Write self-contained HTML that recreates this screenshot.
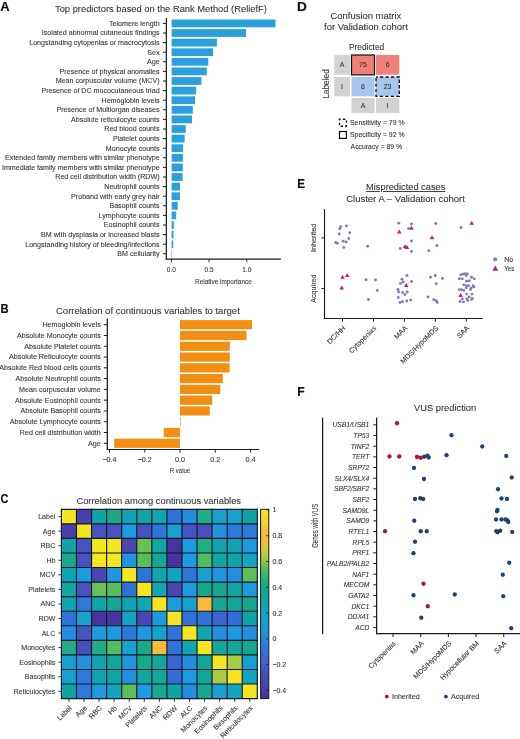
<!DOCTYPE html>
<html lang="en">
<head>
<meta charset="utf-8">
<title>Figure: predictors, correlations, confusion matrix and VUS prediction</title>
<style>
html,body{margin:0;padding:0;background:#fff;}
body{width:520px;height:739px;overflow:hidden;}
svg{display:block;font-family:"Liberation Sans",sans-serif;}
text{fill:#383838;stroke:#383838;stroke-width:0.1px;}
text.pl{fill:#0d0d0d;stroke:#0d0d0d;stroke-width:0.15px;stroke-linejoin:round;}
</style>
</head>
<body>
<svg width="520" height="739" viewBox="0 0 520 739">
<rect x="0" y="0" width="520" height="739" fill="#ffffff"/>
<text class="pl" transform="translate(0.48 10.73) scale(1.020 1)" x="-0.32" y="0" font-size="12.8" font-weight="bold">A</text>
<text class="pl" transform="translate(1.18 312.53) scale(0.879 1)" x="-0.86" y="0" font-size="12.8" font-weight="bold">B</text>
<text class="pl" transform="translate(0.88 502.62) scale(0.855 1)" x="-0.52" y="0" font-size="12.8" font-weight="bold">C</text>
<text class="pl" transform="translate(297.88 10.62) scale(1.066 1)" x="-0.86" y="0" font-size="12.8" font-weight="bold">D</text>
<text class="pl" transform="translate(297.97 187.73) scale(0.914 1)" x="-0.86" y="0" font-size="12.8" font-weight="bold">E</text>
<text class="pl" transform="translate(297.97 395.82) scale(0.950 1)" x="-0.86" y="0" font-size="12.8" font-weight="bold">F</text>
<g id="panelA">
<text x="55.00" y="11.80" font-size="9.35">Top predictors based on the Rank Method (ReliefF)</text>
<rect x="171.60" y="19.50" width="103.90" height="7.80" fill="#2ba0dc"/>
<line x1="163.00" y1="23.40" x2="166.20" y2="23.40" stroke="#1a1a1a" stroke-width="1.0"/>
<text x="159.60" y="25.85" font-size="7.12" text-anchor="end">Telomere length</text>
<rect x="171.60" y="29.10" width="74.50" height="7.80" fill="#2ba0dc"/>
<line x1="163.00" y1="33.00" x2="166.20" y2="33.00" stroke="#1a1a1a" stroke-width="1.0"/>
<text x="159.60" y="35.45" font-size="7.12" text-anchor="end">Isolated abnormal cutaneous findings</text>
<rect x="171.60" y="38.70" width="45.30" height="7.80" fill="#2ba0dc"/>
<line x1="163.00" y1="42.60" x2="166.20" y2="42.60" stroke="#1a1a1a" stroke-width="1.0"/>
<text x="159.60" y="45.05" font-size="7.12" text-anchor="end">Longstanding cytopenias or macrocytosis</text>
<rect x="171.60" y="48.30" width="41.50" height="7.80" fill="#2ba0dc"/>
<line x1="163.00" y1="52.20" x2="166.20" y2="52.20" stroke="#1a1a1a" stroke-width="1.0"/>
<text x="159.60" y="54.65" font-size="7.12" text-anchor="end">Sex</text>
<rect x="171.60" y="57.90" width="36.70" height="7.80" fill="#2ba0dc"/>
<line x1="163.00" y1="61.80" x2="166.20" y2="61.80" stroke="#1a1a1a" stroke-width="1.0"/>
<text x="159.60" y="64.25" font-size="7.12" text-anchor="end">Age</text>
<rect x="171.60" y="67.50" width="35.20" height="7.80" fill="#2ba0dc"/>
<line x1="163.00" y1="71.40" x2="166.20" y2="71.40" stroke="#1a1a1a" stroke-width="1.0"/>
<text x="159.60" y="73.85" font-size="7.12" text-anchor="end">Presence of physical anomalies</text>
<rect x="171.60" y="77.10" width="29.80" height="7.80" fill="#2ba0dc"/>
<line x1="163.00" y1="81.00" x2="166.20" y2="81.00" stroke="#1a1a1a" stroke-width="1.0"/>
<text x="159.60" y="83.45" font-size="7.12" text-anchor="end">Mean corpuscular volume (MCV)</text>
<rect x="171.60" y="86.70" width="24.60" height="7.80" fill="#2ba0dc"/>
<line x1="163.00" y1="90.60" x2="166.20" y2="90.60" stroke="#1a1a1a" stroke-width="1.0"/>
<text x="159.60" y="93.05" font-size="7.12" text-anchor="end">Presence of DC mucocutaneous triad</text>
<rect x="171.60" y="96.30" width="23.50" height="7.80" fill="#2ba0dc"/>
<line x1="163.00" y1="100.20" x2="166.20" y2="100.20" stroke="#1a1a1a" stroke-width="1.0"/>
<text x="159.60" y="102.65" font-size="7.12" text-anchor="end">Hemoglobin levels</text>
<rect x="171.60" y="105.90" width="21.20" height="7.80" fill="#2ba0dc"/>
<line x1="163.00" y1="109.80" x2="166.20" y2="109.80" stroke="#1a1a1a" stroke-width="1.0"/>
<text x="159.60" y="112.25" font-size="7.12" text-anchor="end">Presence of Multiorgan diseases</text>
<rect x="171.60" y="115.50" width="20.40" height="7.80" fill="#2ba0dc"/>
<line x1="163.00" y1="119.40" x2="166.20" y2="119.40" stroke="#1a1a1a" stroke-width="1.0"/>
<text x="159.60" y="121.85" font-size="7.12" text-anchor="end">Absolute reticulocyte counts</text>
<rect x="171.60" y="125.10" width="14.20" height="7.80" fill="#2ba0dc"/>
<line x1="163.00" y1="129.00" x2="166.20" y2="129.00" stroke="#1a1a1a" stroke-width="1.0"/>
<text x="159.60" y="131.45" font-size="7.12" text-anchor="end">Red blood counts</text>
<rect x="171.60" y="134.70" width="13.00" height="7.80" fill="#2ba0dc"/>
<line x1="163.00" y1="138.60" x2="166.20" y2="138.60" stroke="#1a1a1a" stroke-width="1.0"/>
<text x="159.60" y="141.05" font-size="7.12" text-anchor="end">Platelet counts</text>
<rect x="171.60" y="144.30" width="11.50" height="7.80" fill="#2ba0dc"/>
<line x1="163.00" y1="148.20" x2="166.20" y2="148.20" stroke="#1a1a1a" stroke-width="1.0"/>
<text x="159.60" y="150.65" font-size="7.12" text-anchor="end">Monocyte counts</text>
<rect x="171.60" y="153.90" width="11.30" height="7.80" fill="#2ba0dc"/>
<line x1="163.00" y1="157.80" x2="166.20" y2="157.80" stroke="#1a1a1a" stroke-width="1.0"/>
<text x="159.60" y="160.25" font-size="7.12" text-anchor="end">Extended family members with similar phenotype</text>
<rect x="171.60" y="163.50" width="11.20" height="7.80" fill="#2ba0dc"/>
<line x1="163.00" y1="167.40" x2="166.20" y2="167.40" stroke="#1a1a1a" stroke-width="1.0"/>
<text x="159.60" y="169.85" font-size="7.12" text-anchor="end">Immediate family members with similar phenotype</text>
<rect x="171.60" y="173.10" width="11.00" height="7.80" fill="#2ba0dc"/>
<line x1="163.00" y1="177.00" x2="166.20" y2="177.00" stroke="#1a1a1a" stroke-width="1.0"/>
<text x="159.60" y="179.45" font-size="7.12" text-anchor="end">Red cell distribution width (RDW)</text>
<rect x="171.60" y="182.70" width="8.40" height="7.80" fill="#2ba0dc"/>
<line x1="163.00" y1="186.60" x2="166.20" y2="186.60" stroke="#1a1a1a" stroke-width="1.0"/>
<text x="159.60" y="189.05" font-size="7.12" text-anchor="end">Neutrophil counts</text>
<rect x="171.60" y="192.30" width="8.40" height="7.80" fill="#2ba0dc"/>
<line x1="163.00" y1="196.20" x2="166.20" y2="196.20" stroke="#1a1a1a" stroke-width="1.0"/>
<text x="159.60" y="198.65" font-size="7.12" text-anchor="end">Proband with early grey hair</text>
<rect x="171.60" y="201.90" width="6.10" height="7.80" fill="#2ba0dc"/>
<line x1="163.00" y1="205.80" x2="166.20" y2="205.80" stroke="#1a1a1a" stroke-width="1.0"/>
<text x="159.60" y="208.25" font-size="7.12" text-anchor="end">Basophil counts</text>
<rect x="171.60" y="211.50" width="4.60" height="7.80" fill="#2ba0dc"/>
<line x1="163.00" y1="215.40" x2="166.20" y2="215.40" stroke="#1a1a1a" stroke-width="1.0"/>
<text x="159.60" y="217.85" font-size="7.12" text-anchor="end">Lymphocyte counts</text>
<rect x="171.60" y="221.10" width="2.20" height="7.80" fill="#2ba0dc"/>
<line x1="163.00" y1="225.00" x2="166.20" y2="225.00" stroke="#1a1a1a" stroke-width="1.0"/>
<text x="159.60" y="227.45" font-size="7.12" text-anchor="end">Eosinophil counts</text>
<rect x="171.60" y="230.70" width="1.90" height="7.80" fill="#2ba0dc"/>
<line x1="163.00" y1="234.60" x2="166.20" y2="234.60" stroke="#1a1a1a" stroke-width="1.0"/>
<text x="159.60" y="237.05" font-size="7.12" text-anchor="end">BM with dysplasia or increased blasts</text>
<rect x="171.60" y="240.30" width="1.60" height="7.80" fill="#2ba0dc"/>
<line x1="163.00" y1="244.20" x2="166.20" y2="244.20" stroke="#1a1a1a" stroke-width="1.0"/>
<text x="159.60" y="246.65" font-size="7.12" text-anchor="end">Longstanding history of bleeding/infections</text>
<rect x="171.60" y="249.90" width="0.50" height="7.80" fill="#2ba0dc"/>
<line x1="163.00" y1="253.80" x2="166.20" y2="253.80" stroke="#1a1a1a" stroke-width="1.0"/>
<text x="159.60" y="256.25" font-size="7.12" text-anchor="end">BM cellularity</text>
<line x1="166.35" y1="18.00" x2="166.35" y2="259.70" stroke="#1a1a1a" stroke-width="1.2"/>
<line x1="165.75" y1="259.15" x2="280.80" y2="259.15" stroke="#1a1a1a" stroke-width="1.15"/>
<line x1="171.40" y1="259.10" x2="171.40" y2="262.30" stroke="#1a1a1a" stroke-width="0.9"/>
<text x="171.40" y="271.90" font-size="7.7" text-anchor="middle" textLength="9.1" lengthAdjust="spacingAndGlyphs">0.0</text>
<line x1="209.10" y1="259.10" x2="209.10" y2="262.30" stroke="#1a1a1a" stroke-width="0.9"/>
<text x="209.10" y="271.90" font-size="7.7" text-anchor="middle" textLength="9.1" lengthAdjust="spacingAndGlyphs">0.5</text>
<line x1="246.80" y1="259.10" x2="246.80" y2="262.30" stroke="#1a1a1a" stroke-width="0.9"/>
<text x="246.80" y="271.90" font-size="7.7" text-anchor="middle" textLength="9.1" lengthAdjust="spacingAndGlyphs">1.0</text>
<text x="223.40" y="283.60" font-size="8.1" text-anchor="middle" textLength="56.8" lengthAdjust="spacingAndGlyphs">Relative importance</text>
</g>
<g id="panelB">
<text x="56.00" y="313.70" font-size="9.5">Correlation of continuous variables to target</text>
<rect x="180.00" y="320.10" width="72.00" height="9.20" fill="#f28e12"/>
<line x1="103.80" y1="324.70" x2="107.00" y2="324.70" stroke="#1a1a1a" stroke-width="1.0"/>
<text x="100.80" y="327.15" font-size="7.15" text-anchor="end">Hemoglobin levels</text>
<rect x="180.00" y="330.88" width="66.50" height="9.20" fill="#f28e12"/>
<line x1="103.80" y1="335.48" x2="107.00" y2="335.48" stroke="#1a1a1a" stroke-width="1.0"/>
<text x="100.80" y="337.93" font-size="7.15" text-anchor="end">Absolute Monocyte counts</text>
<rect x="180.00" y="341.66" width="49.80" height="9.20" fill="#f28e12"/>
<line x1="103.80" y1="346.26" x2="107.00" y2="346.26" stroke="#1a1a1a" stroke-width="1.0"/>
<text x="100.80" y="348.71" font-size="7.15" text-anchor="end">Absolute Platelet counts</text>
<rect x="180.00" y="352.44" width="49.80" height="9.20" fill="#f28e12"/>
<line x1="103.80" y1="357.04" x2="107.00" y2="357.04" stroke="#1a1a1a" stroke-width="1.0"/>
<text x="100.80" y="359.49" font-size="7.15" text-anchor="end">Absolute Reticulocyte counts</text>
<rect x="180.00" y="363.22" width="49.60" height="9.20" fill="#f28e12"/>
<line x1="103.80" y1="367.82" x2="107.00" y2="367.82" stroke="#1a1a1a" stroke-width="1.0"/>
<text x="100.80" y="370.27" font-size="7.15" text-anchor="end">Absolute Red blood cells counts</text>
<rect x="180.00" y="374.00" width="42.80" height="9.20" fill="#f28e12"/>
<line x1="103.80" y1="378.60" x2="107.00" y2="378.60" stroke="#1a1a1a" stroke-width="1.0"/>
<text x="100.80" y="381.05" font-size="7.15" text-anchor="end">Absolute Neutrophil counts</text>
<rect x="180.00" y="384.78" width="40.30" height="9.20" fill="#f28e12"/>
<line x1="103.80" y1="389.38" x2="107.00" y2="389.38" stroke="#1a1a1a" stroke-width="1.0"/>
<text x="100.80" y="391.83" font-size="7.15" text-anchor="end">Mean corpuscular volume</text>
<rect x="180.00" y="395.56" width="32.30" height="9.20" fill="#f28e12"/>
<line x1="103.80" y1="400.16" x2="107.00" y2="400.16" stroke="#1a1a1a" stroke-width="1.0"/>
<text x="100.80" y="402.61" font-size="7.15" text-anchor="end">Absolute Eosinophil counts</text>
<rect x="180.00" y="406.34" width="29.80" height="9.20" fill="#f28e12"/>
<line x1="103.80" y1="410.94" x2="107.00" y2="410.94" stroke="#1a1a1a" stroke-width="1.0"/>
<text x="100.80" y="413.39" font-size="7.15" text-anchor="end">Absolute Basophil counts</text>
<rect x="180.00" y="417.12" width="0.60" height="9.20" fill="#f28e12"/>
<line x1="103.80" y1="421.72" x2="107.00" y2="421.72" stroke="#1a1a1a" stroke-width="1.0"/>
<text x="100.80" y="424.17" font-size="7.15" text-anchor="end">Absolute Lymphocyte counts</text>
<rect x="163.70" y="427.90" width="16.30" height="9.20" fill="#f28e12"/>
<line x1="103.80" y1="432.50" x2="107.00" y2="432.50" stroke="#1a1a1a" stroke-width="1.0"/>
<text x="100.80" y="434.95" font-size="7.15" text-anchor="end">Red cell distribution width</text>
<rect x="114.20" y="438.68" width="65.80" height="9.20" fill="#f28e12"/>
<line x1="103.80" y1="443.28" x2="107.00" y2="443.28" stroke="#1a1a1a" stroke-width="1.0"/>
<text x="100.80" y="445.73" font-size="7.15" text-anchor="end">Age</text>
<line x1="107.30" y1="318.60" x2="107.30" y2="450.10" stroke="#1a1a1a" stroke-width="1.25"/>
<line x1="106.70" y1="449.50" x2="259.20" y2="449.50" stroke="#1a1a1a" stroke-width="1.2"/>
<line x1="109.50" y1="449.50" x2="109.50" y2="452.70" stroke="#1a1a1a" stroke-width="0.9"/>
<text x="109.50" y="462.10" font-size="7.2" text-anchor="middle">−0.4</text>
<line x1="144.77" y1="449.50" x2="144.77" y2="452.70" stroke="#1a1a1a" stroke-width="0.9"/>
<text x="144.77" y="462.10" font-size="7.2" text-anchor="middle">−0.2</text>
<line x1="180.04" y1="449.50" x2="180.04" y2="452.70" stroke="#1a1a1a" stroke-width="0.9"/>
<text x="180.04" y="462.10" font-size="7.2" text-anchor="middle">0.0</text>
<line x1="215.31" y1="449.50" x2="215.31" y2="452.70" stroke="#1a1a1a" stroke-width="0.9"/>
<text x="215.31" y="462.10" font-size="7.2" text-anchor="middle">0.2</text>
<line x1="250.58" y1="449.50" x2="250.58" y2="452.70" stroke="#1a1a1a" stroke-width="0.9"/>
<text x="250.58" y="462.10" font-size="7.2" text-anchor="middle">0.4</text>
<text x="180.00" y="473.30" font-size="8.1" text-anchor="middle" textLength="20.3" lengthAdjust="spacingAndGlyphs">R value</text>
</g>
<g id="panelC">
<text x="76.40" y="504.00" font-size="9.36">Correlation among continuous variables</text>
<rect x="61.40" y="509.30" width="15.12" height="14.61" fill="#f5e622"/>
<rect x="76.47" y="509.30" width="15.12" height="14.61" fill="#4a3fab"/>
<rect x="91.54" y="509.30" width="15.12" height="14.61" fill="#10a5a5"/>
<rect x="106.61" y="509.30" width="15.12" height="14.61" fill="#18a88a"/>
<rect x="121.68" y="509.30" width="15.12" height="14.61" fill="#12a4b6"/>
<rect x="136.75" y="509.30" width="15.12" height="14.61" fill="#12a6a0"/>
<rect x="151.82" y="509.30" width="15.12" height="14.61" fill="#11a5b0"/>
<rect x="166.89" y="509.30" width="15.12" height="14.61" fill="#3072d8"/>
<rect x="181.96" y="509.30" width="15.12" height="14.61" fill="#268cdf"/>
<rect x="197.03" y="509.30" width="15.12" height="14.61" fill="#20ad85"/>
<rect x="212.10" y="509.30" width="15.12" height="14.61" fill="#16a2cd"/>
<rect x="227.17" y="509.30" width="15.12" height="14.61" fill="#17a1cf"/>
<rect x="242.24" y="509.30" width="15.12" height="14.61" fill="#10a5a5"/>
<rect x="61.40" y="523.86" width="15.12" height="14.61" fill="#4a3fab"/>
<rect x="76.47" y="523.86" width="15.12" height="14.61" fill="#f5e622"/>
<rect x="91.54" y="523.86" width="15.12" height="14.61" fill="#4752be"/>
<rect x="106.61" y="523.86" width="15.12" height="14.61" fill="#4752be"/>
<rect x="121.68" y="523.86" width="15.12" height="14.61" fill="#1c9cdb"/>
<rect x="136.75" y="523.86" width="15.12" height="14.61" fill="#4752be"/>
<rect x="151.82" y="523.86" width="15.12" height="14.61" fill="#2e78da"/>
<rect x="166.89" y="523.86" width="15.12" height="14.61" fill="#16a2cd"/>
<rect x="181.96" y="523.86" width="15.12" height="14.61" fill="#4654c0"/>
<rect x="197.03" y="523.86" width="15.12" height="14.61" fill="#494eba"/>
<rect x="212.10" y="523.86" width="15.12" height="14.61" fill="#2392df"/>
<rect x="227.17" y="523.86" width="15.12" height="14.61" fill="#2e7ada"/>
<rect x="242.24" y="523.86" width="15.12" height="14.61" fill="#2e7ada"/>
<rect x="61.40" y="538.42" width="15.12" height="14.61" fill="#10a5a5"/>
<rect x="76.47" y="538.42" width="15.12" height="14.61" fill="#4752be"/>
<rect x="91.54" y="538.42" width="15.12" height="14.61" fill="#f5e622"/>
<rect x="106.61" y="538.42" width="15.12" height="14.61" fill="#f5e622"/>
<rect x="121.68" y="538.42" width="15.12" height="14.61" fill="#4a47b3"/>
<rect x="136.75" y="538.42" width="15.12" height="14.61" fill="#6ac055"/>
<rect x="151.82" y="538.42" width="15.12" height="14.61" fill="#10a5a8"/>
<rect x="166.89" y="538.42" width="15.12" height="14.61" fill="#46339e"/>
<rect x="181.96" y="538.42" width="15.12" height="14.61" fill="#1e9ae0"/>
<rect x="197.03" y="538.42" width="15.12" height="14.61" fill="#22ae84"/>
<rect x="212.10" y="538.42" width="15.12" height="14.61" fill="#11a5b0"/>
<rect x="227.17" y="538.42" width="15.12" height="14.61" fill="#11a5b0"/>
<rect x="242.24" y="538.42" width="15.12" height="14.61" fill="#1e9ae0"/>
<rect x="61.40" y="552.98" width="15.12" height="14.61" fill="#18a88a"/>
<rect x="76.47" y="552.98" width="15.12" height="14.61" fill="#4752be"/>
<rect x="91.54" y="552.98" width="15.12" height="14.61" fill="#f5e622"/>
<rect x="106.61" y="552.98" width="15.12" height="14.61" fill="#f5e622"/>
<rect x="121.68" y="552.98" width="15.12" height="14.61" fill="#2096e0"/>
<rect x="136.75" y="552.98" width="15.12" height="14.61" fill="#59bd5d"/>
<rect x="151.82" y="552.98" width="15.12" height="14.61" fill="#15a795"/>
<rect x="166.89" y="552.98" width="15.12" height="14.61" fill="#46339e"/>
<rect x="181.96" y="552.98" width="15.12" height="14.61" fill="#1e9ae0"/>
<rect x="197.03" y="552.98" width="15.12" height="14.61" fill="#52bc62"/>
<rect x="212.10" y="552.98" width="15.12" height="14.61" fill="#12a69d"/>
<rect x="227.17" y="552.98" width="15.12" height="14.61" fill="#10a5a8"/>
<rect x="242.24" y="552.98" width="15.12" height="14.61" fill="#13a4c1"/>
<rect x="61.40" y="567.54" width="15.12" height="14.61" fill="#12a4b6"/>
<rect x="76.47" y="567.54" width="15.12" height="14.61" fill="#1c9cdb"/>
<rect x="91.54" y="567.54" width="15.12" height="14.61" fill="#4a47b3"/>
<rect x="106.61" y="567.54" width="15.12" height="14.61" fill="#2096e0"/>
<rect x="121.68" y="567.54" width="15.12" height="14.61" fill="#f5e622"/>
<rect x="136.75" y="567.54" width="15.12" height="14.61" fill="#3072d8"/>
<rect x="151.82" y="567.54" width="15.12" height="14.61" fill="#11a5b0"/>
<rect x="166.89" y="567.54" width="15.12" height="14.61" fill="#13a4c1"/>
<rect x="181.96" y="567.54" width="15.12" height="14.61" fill="#2f76d9"/>
<rect x="197.03" y="567.54" width="15.12" height="14.61" fill="#17a1cf"/>
<rect x="212.10" y="567.54" width="15.12" height="14.61" fill="#2096e0"/>
<rect x="227.17" y="567.54" width="15.12" height="14.61" fill="#2490df"/>
<rect x="242.24" y="567.54" width="15.12" height="14.61" fill="#60be58"/>
<rect x="61.40" y="582.10" width="15.12" height="14.61" fill="#12a6a0"/>
<rect x="76.47" y="582.10" width="15.12" height="14.61" fill="#4752be"/>
<rect x="91.54" y="582.10" width="15.12" height="14.61" fill="#6ac055"/>
<rect x="106.61" y="582.10" width="15.12" height="14.61" fill="#59bd5d"/>
<rect x="121.68" y="582.10" width="15.12" height="14.61" fill="#3072d8"/>
<rect x="136.75" y="582.10" width="15.12" height="14.61" fill="#f5e622"/>
<rect x="151.82" y="582.10" width="15.12" height="14.61" fill="#12a5b3"/>
<rect x="166.89" y="582.10" width="15.12" height="14.61" fill="#4a47b3"/>
<rect x="181.96" y="582.10" width="15.12" height="14.61" fill="#1e9ae0"/>
<rect x="197.03" y="582.10" width="15.12" height="14.61" fill="#18a88a"/>
<rect x="212.10" y="582.10" width="15.12" height="14.61" fill="#18a88a"/>
<rect x="227.17" y="582.10" width="15.12" height="14.61" fill="#12a69d"/>
<rect x="242.24" y="582.10" width="15.12" height="14.61" fill="#1e9ae0"/>
<rect x="61.40" y="596.66" width="15.12" height="14.61" fill="#11a5b0"/>
<rect x="76.47" y="596.66" width="15.12" height="14.61" fill="#2e78da"/>
<rect x="91.54" y="596.66" width="15.12" height="14.61" fill="#10a5a8"/>
<rect x="106.61" y="596.66" width="15.12" height="14.61" fill="#15a795"/>
<rect x="121.68" y="596.66" width="15.12" height="14.61" fill="#11a5b0"/>
<rect x="136.75" y="596.66" width="15.12" height="14.61" fill="#12a5b3"/>
<rect x="151.82" y="596.66" width="15.12" height="14.61" fill="#f5e622"/>
<rect x="166.89" y="596.66" width="15.12" height="14.61" fill="#1e9ae0"/>
<rect x="181.96" y="596.66" width="15.12" height="14.61" fill="#16a2cd"/>
<rect x="197.03" y="596.66" width="15.12" height="14.61" fill="#f8ba3a"/>
<rect x="212.10" y="596.66" width="15.12" height="14.61" fill="#14a698"/>
<rect x="227.17" y="596.66" width="15.12" height="14.61" fill="#14a698"/>
<rect x="242.24" y="596.66" width="15.12" height="14.61" fill="#16a78f"/>
<rect x="61.40" y="611.22" width="15.12" height="14.61" fill="#3072d8"/>
<rect x="76.47" y="611.22" width="15.12" height="14.61" fill="#16a2cd"/>
<rect x="91.54" y="611.22" width="15.12" height="14.61" fill="#46339e"/>
<rect x="106.61" y="611.22" width="15.12" height="14.61" fill="#46339e"/>
<rect x="121.68" y="611.22" width="15.12" height="14.61" fill="#13a4c1"/>
<rect x="136.75" y="611.22" width="15.12" height="14.61" fill="#4a47b3"/>
<rect x="151.82" y="611.22" width="15.12" height="14.61" fill="#1e9ae0"/>
<rect x="166.89" y="611.22" width="15.12" height="14.61" fill="#f5e622"/>
<rect x="181.96" y="611.22" width="15.12" height="14.61" fill="#3072d8"/>
<rect x="197.03" y="611.22" width="15.12" height="14.61" fill="#3072d8"/>
<rect x="212.10" y="611.22" width="15.12" height="14.61" fill="#3d64ce"/>
<rect x="227.17" y="611.22" width="15.12" height="14.61" fill="#356dd4"/>
<rect x="242.24" y="611.22" width="15.12" height="14.61" fill="#10a5a5"/>
<rect x="61.40" y="625.78" width="15.12" height="14.61" fill="#268cdf"/>
<rect x="76.47" y="625.78" width="15.12" height="14.61" fill="#4654c0"/>
<rect x="91.54" y="625.78" width="15.12" height="14.61" fill="#1e9ae0"/>
<rect x="106.61" y="625.78" width="15.12" height="14.61" fill="#1e9ae0"/>
<rect x="121.68" y="625.78" width="15.12" height="14.61" fill="#2f76d9"/>
<rect x="136.75" y="625.78" width="15.12" height="14.61" fill="#1e9ae0"/>
<rect x="151.82" y="625.78" width="15.12" height="14.61" fill="#16a2cd"/>
<rect x="166.89" y="625.78" width="15.12" height="14.61" fill="#3072d8"/>
<rect x="181.96" y="625.78" width="15.12" height="14.61" fill="#f5e622"/>
<rect x="197.03" y="625.78" width="15.12" height="14.61" fill="#11a5b0"/>
<rect x="212.10" y="625.78" width="15.12" height="14.61" fill="#258edf"/>
<rect x="227.17" y="625.78" width="15.12" height="14.61" fill="#1e9ae0"/>
<rect x="242.24" y="625.78" width="15.12" height="14.61" fill="#258edf"/>
<rect x="61.40" y="640.34" width="15.12" height="14.61" fill="#20ad85"/>
<rect x="76.47" y="640.34" width="15.12" height="14.61" fill="#494eba"/>
<rect x="91.54" y="640.34" width="15.12" height="14.61" fill="#22ae84"/>
<rect x="106.61" y="640.34" width="15.12" height="14.61" fill="#52bc62"/>
<rect x="121.68" y="640.34" width="15.12" height="14.61" fill="#17a1cf"/>
<rect x="136.75" y="640.34" width="15.12" height="14.61" fill="#18a88a"/>
<rect x="151.82" y="640.34" width="15.12" height="14.61" fill="#f8ba3a"/>
<rect x="166.89" y="640.34" width="15.12" height="14.61" fill="#3072d8"/>
<rect x="181.96" y="640.34" width="15.12" height="14.61" fill="#11a5b0"/>
<rect x="197.03" y="640.34" width="15.12" height="14.61" fill="#f5e622"/>
<rect x="212.10" y="640.34" width="15.12" height="14.61" fill="#14a698"/>
<rect x="227.17" y="640.34" width="15.12" height="14.61" fill="#14a698"/>
<rect x="242.24" y="640.34" width="15.12" height="14.61" fill="#16a78f"/>
<rect x="61.40" y="654.90" width="15.12" height="14.61" fill="#16a2cd"/>
<rect x="76.47" y="654.90" width="15.12" height="14.61" fill="#2392df"/>
<rect x="91.54" y="654.90" width="15.12" height="14.61" fill="#11a5b0"/>
<rect x="106.61" y="654.90" width="15.12" height="14.61" fill="#12a69d"/>
<rect x="121.68" y="654.90" width="15.12" height="14.61" fill="#2096e0"/>
<rect x="136.75" y="654.90" width="15.12" height="14.61" fill="#18a88a"/>
<rect x="151.82" y="654.90" width="15.12" height="14.61" fill="#14a698"/>
<rect x="166.89" y="654.90" width="15.12" height="14.61" fill="#3d64ce"/>
<rect x="181.96" y="654.90" width="15.12" height="14.61" fill="#258edf"/>
<rect x="197.03" y="654.90" width="15.12" height="14.61" fill="#14a698"/>
<rect x="212.10" y="654.90" width="15.12" height="14.61" fill="#f5e622"/>
<rect x="227.17" y="654.90" width="15.12" height="14.61" fill="#a8ca44"/>
<rect x="242.24" y="654.90" width="15.12" height="14.61" fill="#18a0d2"/>
<rect x="61.40" y="669.46" width="15.12" height="14.61" fill="#17a1cf"/>
<rect x="76.47" y="669.46" width="15.12" height="14.61" fill="#2e7ada"/>
<rect x="91.54" y="669.46" width="15.12" height="14.61" fill="#11a5b0"/>
<rect x="106.61" y="669.46" width="15.12" height="14.61" fill="#10a5a8"/>
<rect x="121.68" y="669.46" width="15.12" height="14.61" fill="#2490df"/>
<rect x="136.75" y="669.46" width="15.12" height="14.61" fill="#12a69d"/>
<rect x="151.82" y="669.46" width="15.12" height="14.61" fill="#14a698"/>
<rect x="166.89" y="669.46" width="15.12" height="14.61" fill="#356dd4"/>
<rect x="181.96" y="669.46" width="15.12" height="14.61" fill="#1e9ae0"/>
<rect x="197.03" y="669.46" width="15.12" height="14.61" fill="#14a698"/>
<rect x="212.10" y="669.46" width="15.12" height="14.61" fill="#a8ca44"/>
<rect x="227.17" y="669.46" width="15.12" height="14.61" fill="#f5e622"/>
<rect x="242.24" y="669.46" width="15.12" height="14.61" fill="#13a4c1"/>
<rect x="61.40" y="684.02" width="15.12" height="14.61" fill="#10a5a5"/>
<rect x="76.47" y="684.02" width="15.12" height="14.61" fill="#2e7ada"/>
<rect x="91.54" y="684.02" width="15.12" height="14.61" fill="#1e9ae0"/>
<rect x="106.61" y="684.02" width="15.12" height="14.61" fill="#13a4c1"/>
<rect x="121.68" y="684.02" width="15.12" height="14.61" fill="#60be58"/>
<rect x="136.75" y="684.02" width="15.12" height="14.61" fill="#1e9ae0"/>
<rect x="151.82" y="684.02" width="15.12" height="14.61" fill="#16a78f"/>
<rect x="166.89" y="684.02" width="15.12" height="14.61" fill="#10a5a5"/>
<rect x="181.96" y="684.02" width="15.12" height="14.61" fill="#258edf"/>
<rect x="197.03" y="684.02" width="15.12" height="14.61" fill="#16a78f"/>
<rect x="212.10" y="684.02" width="15.12" height="14.61" fill="#18a0d2"/>
<rect x="227.17" y="684.02" width="15.12" height="14.61" fill="#13a4c1"/>
<rect x="242.24" y="684.02" width="15.12" height="14.61" fill="#f5e622"/>
<line x1="61.40" y1="508.80" x2="61.40" y2="699.08" stroke="#0f1626" stroke-width="1.15"/>
<line x1="60.90" y1="509.30" x2="257.81" y2="509.30" stroke="#0f1626" stroke-width="1.15"/>
<line x1="76.47" y1="508.80" x2="76.47" y2="699.08" stroke="#0f1626" stroke-width="1.15"/>
<line x1="60.90" y1="523.86" x2="257.81" y2="523.86" stroke="#0f1626" stroke-width="1.15"/>
<line x1="91.54" y1="508.80" x2="91.54" y2="699.08" stroke="#0f1626" stroke-width="1.15"/>
<line x1="60.90" y1="538.42" x2="257.81" y2="538.42" stroke="#0f1626" stroke-width="1.15"/>
<line x1="106.61" y1="508.80" x2="106.61" y2="699.08" stroke="#0f1626" stroke-width="1.15"/>
<line x1="60.90" y1="552.98" x2="257.81" y2="552.98" stroke="#0f1626" stroke-width="1.15"/>
<line x1="121.68" y1="508.80" x2="121.68" y2="699.08" stroke="#0f1626" stroke-width="1.15"/>
<line x1="60.90" y1="567.54" x2="257.81" y2="567.54" stroke="#0f1626" stroke-width="1.15"/>
<line x1="136.75" y1="508.80" x2="136.75" y2="699.08" stroke="#0f1626" stroke-width="1.15"/>
<line x1="60.90" y1="582.10" x2="257.81" y2="582.10" stroke="#0f1626" stroke-width="1.15"/>
<line x1="151.82" y1="508.80" x2="151.82" y2="699.08" stroke="#0f1626" stroke-width="1.15"/>
<line x1="60.90" y1="596.66" x2="257.81" y2="596.66" stroke="#0f1626" stroke-width="1.15"/>
<line x1="166.89" y1="508.80" x2="166.89" y2="699.08" stroke="#0f1626" stroke-width="1.15"/>
<line x1="60.90" y1="611.22" x2="257.81" y2="611.22" stroke="#0f1626" stroke-width="1.15"/>
<line x1="181.96" y1="508.80" x2="181.96" y2="699.08" stroke="#0f1626" stroke-width="1.15"/>
<line x1="60.90" y1="625.78" x2="257.81" y2="625.78" stroke="#0f1626" stroke-width="1.15"/>
<line x1="197.03" y1="508.80" x2="197.03" y2="699.08" stroke="#0f1626" stroke-width="1.15"/>
<line x1="60.90" y1="640.34" x2="257.81" y2="640.34" stroke="#0f1626" stroke-width="1.15"/>
<line x1="212.10" y1="508.80" x2="212.10" y2="699.08" stroke="#0f1626" stroke-width="1.15"/>
<line x1="60.90" y1="654.90" x2="257.81" y2="654.90" stroke="#0f1626" stroke-width="1.15"/>
<line x1="227.17" y1="508.80" x2="227.17" y2="699.08" stroke="#0f1626" stroke-width="1.15"/>
<line x1="60.90" y1="669.46" x2="257.81" y2="669.46" stroke="#0f1626" stroke-width="1.15"/>
<line x1="242.24" y1="508.80" x2="242.24" y2="699.08" stroke="#0f1626" stroke-width="1.15"/>
<line x1="60.90" y1="684.02" x2="257.81" y2="684.02" stroke="#0f1626" stroke-width="1.15"/>
<line x1="257.31" y1="508.80" x2="257.31" y2="699.08" stroke="#0f1626" stroke-width="1.15"/>
<line x1="60.90" y1="698.58" x2="257.81" y2="698.58" stroke="#0f1626" stroke-width="1.15"/>
<line x1="58.40" y1="516.58" x2="61.00" y2="516.58" stroke="#1a1a1a" stroke-width="0.9"/>
<text x="55.40" y="519.08" font-size="7.05" text-anchor="end">Label</text>
<line x1="68.94" y1="698.58" x2="68.94" y2="701.78" stroke="#1a1a1a" stroke-width="0.9"/>
<text x="72.23" y="708.58" font-size="7.1" text-anchor="end" transform="rotate(-45 72.23 708.58)">Label</text>
<line x1="58.40" y1="531.14" x2="61.00" y2="531.14" stroke="#1a1a1a" stroke-width="0.9"/>
<text x="55.40" y="533.64" font-size="7.05" text-anchor="end">Age</text>
<line x1="84.00" y1="698.58" x2="84.00" y2="701.78" stroke="#1a1a1a" stroke-width="0.9"/>
<text x="87.30" y="708.58" font-size="7.1" text-anchor="end" transform="rotate(-45 87.30 708.58)">Age</text>
<line x1="58.40" y1="545.70" x2="61.00" y2="545.70" stroke="#1a1a1a" stroke-width="0.9"/>
<text x="55.40" y="548.20" font-size="7.05" text-anchor="end">RBC</text>
<line x1="99.07" y1="698.58" x2="99.07" y2="701.78" stroke="#1a1a1a" stroke-width="0.9"/>
<text x="102.37" y="708.58" font-size="7.1" text-anchor="end" transform="rotate(-45 102.37 708.58)">RBC</text>
<line x1="58.40" y1="560.26" x2="61.00" y2="560.26" stroke="#1a1a1a" stroke-width="0.9"/>
<text x="55.40" y="562.76" font-size="7.05" text-anchor="end">Hb</text>
<line x1="114.15" y1="698.58" x2="114.15" y2="701.78" stroke="#1a1a1a" stroke-width="0.9"/>
<text x="117.45" y="708.58" font-size="7.1" text-anchor="end" transform="rotate(-45 117.45 708.58)">Hb</text>
<line x1="58.40" y1="574.82" x2="61.00" y2="574.82" stroke="#1a1a1a" stroke-width="0.9"/>
<text x="55.40" y="577.32" font-size="7.05" text-anchor="end">MCV</text>
<line x1="129.22" y1="698.58" x2="129.22" y2="701.78" stroke="#1a1a1a" stroke-width="0.9"/>
<text x="132.52" y="708.58" font-size="7.1" text-anchor="end" transform="rotate(-45 132.52 708.58)">MCV</text>
<line x1="58.40" y1="589.38" x2="61.00" y2="589.38" stroke="#1a1a1a" stroke-width="0.9"/>
<text x="55.40" y="591.88" font-size="7.05" text-anchor="end">Platelets</text>
<line x1="144.28" y1="698.58" x2="144.28" y2="701.78" stroke="#1a1a1a" stroke-width="0.9"/>
<text x="147.59" y="708.58" font-size="7.1" text-anchor="end" transform="rotate(-45 147.59 708.58)">Platelets</text>
<line x1="58.40" y1="603.94" x2="61.00" y2="603.94" stroke="#1a1a1a" stroke-width="0.9"/>
<text x="55.40" y="606.44" font-size="7.05" text-anchor="end">ANC</text>
<line x1="159.35" y1="698.58" x2="159.35" y2="701.78" stroke="#1a1a1a" stroke-width="0.9"/>
<text x="162.66" y="708.58" font-size="7.1" text-anchor="end" transform="rotate(-45 162.66 708.58)">ANC</text>
<line x1="58.40" y1="618.50" x2="61.00" y2="618.50" stroke="#1a1a1a" stroke-width="0.9"/>
<text x="55.40" y="621.00" font-size="7.05" text-anchor="end">RDW</text>
<line x1="174.43" y1="698.58" x2="174.43" y2="701.78" stroke="#1a1a1a" stroke-width="0.9"/>
<text x="177.73" y="708.58" font-size="7.1" text-anchor="end" transform="rotate(-45 177.73 708.58)">RDW</text>
<line x1="58.40" y1="633.06" x2="61.00" y2="633.06" stroke="#1a1a1a" stroke-width="0.9"/>
<text x="55.40" y="635.56" font-size="7.05" text-anchor="end">ALC</text>
<line x1="189.50" y1="698.58" x2="189.50" y2="701.78" stroke="#1a1a1a" stroke-width="0.9"/>
<text x="192.80" y="708.58" font-size="7.1" text-anchor="end" transform="rotate(-45 192.80 708.58)">ALC</text>
<line x1="58.40" y1="647.62" x2="61.00" y2="647.62" stroke="#1a1a1a" stroke-width="0.9"/>
<text x="55.40" y="650.12" font-size="7.05" text-anchor="end">Monocytes</text>
<line x1="204.56" y1="698.58" x2="204.56" y2="701.78" stroke="#1a1a1a" stroke-width="0.9"/>
<text x="207.87" y="708.58" font-size="7.1" text-anchor="end" transform="rotate(-45 207.87 708.58)">Monocytes</text>
<line x1="58.40" y1="662.18" x2="61.00" y2="662.18" stroke="#1a1a1a" stroke-width="0.9"/>
<text x="55.40" y="664.68" font-size="7.05" text-anchor="end">Eosinophils</text>
<line x1="219.64" y1="698.58" x2="219.64" y2="701.78" stroke="#1a1a1a" stroke-width="0.9"/>
<text x="222.94" y="708.58" font-size="7.1" text-anchor="end" transform="rotate(-45 222.94 708.58)">Eosinophils</text>
<line x1="58.40" y1="676.74" x2="61.00" y2="676.74" stroke="#1a1a1a" stroke-width="0.9"/>
<text x="55.40" y="679.24" font-size="7.05" text-anchor="end">Basophils</text>
<line x1="234.71" y1="698.58" x2="234.71" y2="701.78" stroke="#1a1a1a" stroke-width="0.9"/>
<text x="238.01" y="708.58" font-size="7.1" text-anchor="end" transform="rotate(-45 238.01 708.58)">Basophils</text>
<line x1="58.40" y1="691.30" x2="61.00" y2="691.30" stroke="#1a1a1a" stroke-width="0.9"/>
<text x="55.40" y="693.80" font-size="7.05" text-anchor="end">Reticulocytes</text>
<line x1="249.78" y1="698.58" x2="249.78" y2="701.78" stroke="#1a1a1a" stroke-width="0.9"/>
<text x="253.08" y="708.58" font-size="7.1" text-anchor="end" transform="rotate(-45 253.08 708.58)">Reticulocytes</text>
<defs><linearGradient id="cb" x1="0" y1="1" x2="0" y2="0">
<stop offset="0.0000" stop-color="#45309a"/>
<stop offset="0.0476" stop-color="#4a3ca8"/>
<stop offset="0.1156" stop-color="#4a4cb8"/>
<stop offset="0.1837" stop-color="#4060cc"/>
<stop offset="0.2517" stop-color="#3072d8"/>
<stop offset="0.3197" stop-color="#2a86de"/>
<stop offset="0.3878" stop-color="#1e9ae0"/>
<stop offset="0.4558" stop-color="#14a4c8"/>
<stop offset="0.5238" stop-color="#10a5a5"/>
<stop offset="0.5918" stop-color="#18a88a"/>
<stop offset="0.6259" stop-color="#25b082"/>
<stop offset="0.6599" stop-color="#3cb870"/>
<stop offset="0.6939" stop-color="#60be58"/>
<stop offset="0.7279" stop-color="#90c848"/>
<stop offset="0.7687" stop-color="#c0cc40"/>
<stop offset="0.8027" stop-color="#e0c640"/>
<stop offset="0.8333" stop-color="#f2be3e"/>
<stop offset="0.8639" stop-color="#f8ba3a"/>
<stop offset="0.9320" stop-color="#f7d02e"/>
<stop offset="1.0000" stop-color="#f5e622"/>
</linearGradient></defs>
<rect x="260.6" y="509.3" width="8.2" height="189.28" fill="url(#cb)" stroke="#1c1c10" stroke-width="1"/>
<line x1="266.20" y1="509.90" x2="268.80" y2="509.90" stroke="#1a1a1a" stroke-width="0.8"/>
<text x="272.40" y="512.40" font-size="7.0" textLength="3.9" lengthAdjust="spacingAndGlyphs">1</text>
<line x1="266.20" y1="535.70" x2="268.80" y2="535.70" stroke="#1a1a1a" stroke-width="0.8"/>
<text x="272.40" y="538.20" font-size="7.0" textLength="9.7" lengthAdjust="spacingAndGlyphs">0.8</text>
<line x1="266.20" y1="561.50" x2="268.80" y2="561.50" stroke="#1a1a1a" stroke-width="0.8"/>
<text x="272.40" y="564.00" font-size="7.0" textLength="9.7" lengthAdjust="spacingAndGlyphs">0.6</text>
<line x1="266.20" y1="587.30" x2="268.80" y2="587.30" stroke="#1a1a1a" stroke-width="0.8"/>
<text x="272.40" y="589.80" font-size="7.0" textLength="9.7" lengthAdjust="spacingAndGlyphs">0.4</text>
<line x1="266.20" y1="613.10" x2="268.80" y2="613.10" stroke="#1a1a1a" stroke-width="0.8"/>
<text x="272.40" y="615.60" font-size="7.0" textLength="9.7" lengthAdjust="spacingAndGlyphs">0.2</text>
<line x1="266.20" y1="638.90" x2="268.80" y2="638.90" stroke="#1a1a1a" stroke-width="0.8"/>
<text x="272.40" y="641.40" font-size="7.0" textLength="3.9" lengthAdjust="spacingAndGlyphs">0</text>
<line x1="266.20" y1="664.70" x2="268.80" y2="664.70" stroke="#1a1a1a" stroke-width="0.8"/>
<text x="272.40" y="667.20" font-size="7.0" textLength="13.8" lengthAdjust="spacingAndGlyphs">−0.2</text>
<line x1="266.20" y1="690.50" x2="268.80" y2="690.50" stroke="#1a1a1a" stroke-width="0.8"/>
<text x="272.40" y="693.00" font-size="7.0" textLength="13.8" lengthAdjust="spacingAndGlyphs">−0.4</text>
</g>
<g id="panelD">
<text x="365.90" y="18.60" font-size="9.45" text-anchor="middle">Confusion matrix</text>
<text x="365.90" y="29.50" font-size="9.5" text-anchor="middle">for Validation cohort</text>
<text x="366.60" y="49.70" font-size="8.35" text-anchor="middle">Predicted</text>
<text x="328.80" y="84.00" font-size="8.35" text-anchor="middle" transform="rotate(-90 328.80 84.00)">Labeled</text>
<rect x="334.30" y="55.00" width="15.70" height="19.70" fill="#d2d2d2"/>
<rect x="334.30" y="77.00" width="15.70" height="19.30" fill="#d2d2d2"/>
<rect x="351.50" y="55.00" width="23.00" height="19.90" fill="#f07f78"/>
<rect x="376.00" y="55.00" width="23.30" height="19.70" fill="#f07f78"/>
<rect x="351.50" y="77.00" width="23.00" height="19.30" fill="#a6c6ec"/>
<rect x="376.00" y="77.00" width="23.30" height="19.30" fill="#a6c6ec"/>
<rect x="351.50" y="98.00" width="23.00" height="15.00" fill="#d2d2d2"/>
<rect x="376.00" y="98.00" width="23.30" height="15.00" fill="#d2d2d2"/>
<rect x="351.5" y="55.0" width="23.0" height="19.9" fill="none" stroke="#111" stroke-width="1.2"/>
<rect x="376.0" y="77.0" width="23.3" height="19.3" fill="none" stroke="#111" stroke-width="1.3" stroke-dasharray="3.3 2.2" stroke-dashoffset="1.6"/>
<text x="342.10" y="67.30" font-size="7.0" text-anchor="middle">A</text>
<text x="342.10" y="89.20" font-size="7.0" text-anchor="middle">I</text>
<text x="363.00" y="67.30" font-size="7.0" text-anchor="middle">75</text>
<text x="387.60" y="67.30" font-size="7.0" text-anchor="middle">6</text>
<text x="363.00" y="89.20" font-size="7.0" text-anchor="middle">6</text>
<text x="387.60" y="89.20" font-size="7.0" text-anchor="middle">23</text>
<text x="363.00" y="108.00" font-size="7.0" text-anchor="middle">A</text>
<text x="387.60" y="108.00" font-size="7.0" text-anchor="middle">I</text>
<rect x="339.5" y="119.3" width="6.9" height="6.9" fill="none" stroke="#111" stroke-width="1.4" stroke-dasharray="2.4 2.2" stroke-dashoffset="1.2"/>
<rect x="339.5" y="131.5" width="6.9" height="6.9" fill="none" stroke="#111" stroke-width="1.2"/>
<text x="350.00" y="125.00" font-size="6.9">Sensitivity = 79 %</text>
<text x="350.00" y="136.60" font-size="6.9">Specificity = 92 %</text>
<text x="350.60" y="148.50" font-size="6.85">Accuracy = 89 %</text>
</g>
<g id="panelE">
<text x="405.70" y="190.00" font-size="9.26" text-anchor="middle" text-decoration="underline">Mispredicted cases</text>
<text x="405.50" y="201.80" font-size="9.5" text-anchor="middle">Cluster A – Validation cohort</text>
<line x1="324.50" y1="209.00" x2="324.50" y2="319.00" stroke="#1a1a1a" stroke-width="1.15"/>
<line x1="323.90" y1="318.45" x2="482.60" y2="318.45" stroke="#1a1a1a" stroke-width="1.15"/>
<line x1="321.40" y1="237.90" x2="324.50" y2="237.90" stroke="#1a1a1a" stroke-width="1.0"/>
<text x="316.30" y="237.90" font-size="7.7" text-anchor="middle" transform="rotate(-90 316.30 237.90)" textLength="28.4" lengthAdjust="spacingAndGlyphs">Inherited</text>
<line x1="321.40" y1="288.60" x2="324.50" y2="288.60" stroke="#1a1a1a" stroke-width="1.0"/>
<text x="316.30" y="288.60" font-size="7.7" text-anchor="middle" transform="rotate(-90 316.30 288.60)" textLength="28.4" lengthAdjust="spacingAndGlyphs">Acquired</text>
<line x1="342.50" y1="318.45" x2="342.50" y2="321.70" stroke="#1a1a1a" stroke-width="1.0"/>
<text x="345.90" y="328.60" font-size="7.1" text-anchor="end" transform="rotate(-45 345.90 328.60)">DC/HH</text>
<line x1="373.45" y1="318.45" x2="373.45" y2="321.70" stroke="#1a1a1a" stroke-width="1.0"/>
<text x="376.85" y="328.60" font-size="7.1" text-anchor="end" transform="rotate(-45 376.85 328.60)">Cytopenias</text>
<line x1="404.40" y1="318.45" x2="404.40" y2="321.70" stroke="#1a1a1a" stroke-width="1.0"/>
<text x="407.80" y="328.60" font-size="7.1" text-anchor="end" transform="rotate(-45 407.80 328.60)">MAA</text>
<line x1="435.35" y1="318.45" x2="435.35" y2="321.70" stroke="#1a1a1a" stroke-width="1.0"/>
<text x="438.75" y="328.60" font-size="7.1" text-anchor="end" transform="rotate(-45 438.75 328.60)">MDS/HypoMDS</text>
<line x1="466.30" y1="318.45" x2="466.30" y2="321.70" stroke="#1a1a1a" stroke-width="1.0"/>
<text x="469.70" y="328.60" font-size="7.1" text-anchor="end" transform="rotate(-45 469.70 328.60)">SAA</text>
<circle cx="340.75" cy="226.75" r="1.45" fill="#847ab8"/>
<circle cx="346.50" cy="226.00" r="1.45" fill="#847ab8"/>
<circle cx="339.75" cy="228.75" r="1.45" fill="#847ab8"/>
<circle cx="339.25" cy="234.00" r="1.45" fill="#847ab8"/>
<circle cx="349.75" cy="232.75" r="1.45" fill="#847ab8"/>
<circle cx="348.75" cy="238.50" r="1.45" fill="#847ab8"/>
<circle cx="343.25" cy="241.25" r="1.45" fill="#847ab8"/>
<circle cx="346.25" cy="242.00" r="1.45" fill="#847ab8"/>
<circle cx="335.75" cy="242.50" r="1.45" fill="#847ab8"/>
<circle cx="337.50" cy="243.25" r="1.45" fill="#847ab8"/>
<circle cx="343.75" cy="247.50" r="1.45" fill="#847ab8"/>
<circle cx="367.75" cy="246.25" r="1.45" fill="#847ab8"/>
<circle cx="398.75" cy="223.25" r="1.45" fill="#847ab8"/>
<circle cx="411.50" cy="224.00" r="1.45" fill="#847ab8"/>
<circle cx="408.50" cy="228.50" r="1.45" fill="#847ab8"/>
<circle cx="411.50" cy="241.00" r="1.45" fill="#847ab8"/>
<circle cx="400.25" cy="248.50" r="1.45" fill="#847ab8"/>
<circle cx="411.50" cy="251.50" r="1.45" fill="#847ab8"/>
<circle cx="366.00" cy="279.75" r="1.45" fill="#847ab8"/>
<circle cx="375.50" cy="280.00" r="1.45" fill="#847ab8"/>
<circle cx="377.25" cy="290.50" r="1.45" fill="#847ab8"/>
<circle cx="368.50" cy="299.50" r="1.45" fill="#847ab8"/>
<circle cx="407.00" cy="275.50" r="1.45" fill="#847ab8"/>
<circle cx="402.00" cy="279.25" r="1.45" fill="#847ab8"/>
<circle cx="403.25" cy="282.00" r="1.45" fill="#847ab8"/>
<circle cx="400.50" cy="283.50" r="1.45" fill="#847ab8"/>
<circle cx="411.50" cy="281.50" r="1.45" fill="#847ab8"/>
<circle cx="398.00" cy="289.50" r="1.45" fill="#847ab8"/>
<circle cx="398.50" cy="292.00" r="1.45" fill="#847ab8"/>
<circle cx="402.50" cy="292.50" r="1.45" fill="#847ab8"/>
<circle cx="407.25" cy="292.00" r="1.45" fill="#847ab8"/>
<circle cx="405.00" cy="294.50" r="1.45" fill="#847ab8"/>
<circle cx="398.25" cy="297.50" r="1.45" fill="#847ab8"/>
<circle cx="406.75" cy="301.00" r="1.45" fill="#847ab8"/>
<circle cx="410.75" cy="300.00" r="1.45" fill="#847ab8"/>
<circle cx="402.50" cy="301.75" r="1.45" fill="#847ab8"/>
<circle cx="400.00" cy="302.50" r="1.45" fill="#847ab8"/>
<circle cx="435.75" cy="223.50" r="1.45" fill="#847ab8"/>
<circle cx="437.00" cy="245.50" r="1.45" fill="#847ab8"/>
<circle cx="428.75" cy="250.75" r="1.45" fill="#847ab8"/>
<circle cx="461.00" cy="227.50" r="1.45" fill="#847ab8"/>
<circle cx="430.50" cy="277.25" r="1.45" fill="#847ab8"/>
<circle cx="435.25" cy="275.50" r="1.45" fill="#847ab8"/>
<circle cx="442.50" cy="278.50" r="1.45" fill="#847ab8"/>
<circle cx="436.25" cy="283.75" r="1.45" fill="#847ab8"/>
<circle cx="428.00" cy="297.00" r="1.45" fill="#847ab8"/>
<circle cx="433.75" cy="299.75" r="1.45" fill="#847ab8"/>
<circle cx="436.25" cy="300.75" r="1.45" fill="#847ab8"/>
<circle cx="437.25" cy="302.50" r="1.45" fill="#847ab8"/>
<circle cx="460.77" cy="274.85" r="1.45" fill="#847ab8"/>
<circle cx="463.08" cy="274.08" r="1.45" fill="#847ab8"/>
<circle cx="465.00" cy="273.62" r="1.45" fill="#847ab8"/>
<circle cx="467.31" cy="273.85" r="1.45" fill="#847ab8"/>
<circle cx="466.15" cy="275.38" r="1.45" fill="#847ab8"/>
<circle cx="459.38" cy="278.69" r="1.45" fill="#847ab8"/>
<circle cx="462.31" cy="278.85" r="1.45" fill="#847ab8"/>
<circle cx="471.54" cy="277.31" r="1.45" fill="#847ab8"/>
<circle cx="474.23" cy="278.85" r="1.45" fill="#847ab8"/>
<circle cx="466.54" cy="281.15" r="1.45" fill="#847ab8"/>
<circle cx="469.23" cy="280.77" r="1.45" fill="#847ab8"/>
<circle cx="463.85" cy="284.85" r="1.45" fill="#847ab8"/>
<circle cx="466.54" cy="285.62" r="1.45" fill="#847ab8"/>
<circle cx="468.46" cy="285.77" r="1.45" fill="#847ab8"/>
<circle cx="473.08" cy="285.77" r="1.45" fill="#847ab8"/>
<circle cx="473.85" cy="286.92" r="1.45" fill="#847ab8"/>
<circle cx="466.15" cy="287.69" r="1.45" fill="#847ab8"/>
<circle cx="470.38" cy="289.62" r="1.45" fill="#847ab8"/>
<circle cx="471.15" cy="288.08" r="1.45" fill="#847ab8"/>
<circle cx="459.23" cy="289.62" r="1.45" fill="#847ab8"/>
<circle cx="461.54" cy="289.62" r="1.45" fill="#847ab8"/>
<circle cx="463.85" cy="290.38" r="1.45" fill="#847ab8"/>
<circle cx="466.54" cy="294.08" r="1.45" fill="#847ab8"/>
<circle cx="471.92" cy="294.08" r="1.45" fill="#847ab8"/>
<circle cx="469.23" cy="296.92" r="1.45" fill="#847ab8"/>
<circle cx="472.31" cy="298.46" r="1.45" fill="#847ab8"/>
<circle cx="466.92" cy="298.85" r="1.45" fill="#847ab8"/>
<circle cx="467.69" cy="300.38" r="1.45" fill="#847ab8"/>
<circle cx="471.54" cy="299.62" r="1.45" fill="#847ab8"/>
<circle cx="460.00" cy="301.54" r="1.45" fill="#847ab8"/>
<circle cx="463.46" cy="301.92" r="1.45" fill="#847ab8"/>
<circle cx="462.31" cy="298.85" r="1.45" fill="#847ab8"/>
<polygon points="399.25,229.50 397.00,233.55 401.50,233.55" fill="#b81e7a"/>
<polygon points="411.50,225.75 409.25,229.80 413.75,229.80" fill="#b81e7a"/>
<polygon points="405.00,244.25 402.75,248.30 407.25,248.30" fill="#b81e7a"/>
<polygon points="407.00,245.00 404.75,249.05 409.25,249.05" fill="#b81e7a"/>
<polygon points="342.50,274.75 340.25,278.80 344.75,278.80" fill="#b81e7a"/>
<polygon points="347.25,273.00 345.00,277.05 349.50,277.05" fill="#b81e7a"/>
<polygon points="341.75,285.50 339.50,289.55 344.00,289.55" fill="#b81e7a"/>
<polygon points="406.25,283.00 404.00,287.05 408.50,287.05" fill="#b81e7a"/>
<polygon points="432.00,235.25 429.75,239.30 434.25,239.30" fill="#b81e7a"/>
<polygon points="471.75,220.75 469.50,224.80 474.00,224.80" fill="#b81e7a"/>
<polygon points="460.62,292.90 458.37,296.95 462.87,296.95" fill="#b81e7a"/>
<circle cx="495.2" cy="259.3" r="2.15" fill="#8583b3"/>
<polygon points="495.30,265.50 492.40,270.72 498.20,270.72" fill="#b81e7a"/>
<text x="504.30" y="261.70" font-size="7.0">No</text>
<text x="504.30" y="270.80" font-size="7.0" textLength="10.0" lengthAdjust="spacingAndGlyphs">Yes</text>
</g>
<g id="panelF">
<text x="414.00" y="410.80" font-size="9.33">VUS prediction</text>
<line x1="322.60" y1="417.50" x2="322.60" y2="634.20" stroke="#1a1a1a" stroke-width="1.25"/>
<line x1="376.60" y1="417.50" x2="376.60" y2="634.20" stroke="#1a1a1a" stroke-width="1.25"/>
<line x1="376.00" y1="633.70" x2="520.00" y2="633.70" stroke="#1a1a1a" stroke-width="1.2"/>
<line x1="373.30" y1="424.85" x2="376.60" y2="424.85" stroke="#1a1a1a" stroke-width="1.0"/>
<text x="369.30" y="427.25" font-size="6.7" text-anchor="end" font-style="italic">USB1/USB1</text>
<line x1="373.30" y1="435.52" x2="376.60" y2="435.52" stroke="#1a1a1a" stroke-width="1.0"/>
<text x="369.30" y="437.92" font-size="6.7" text-anchor="end" font-style="italic">TP53</text>
<line x1="373.30" y1="446.18" x2="376.60" y2="446.18" stroke="#1a1a1a" stroke-width="1.0"/>
<text x="369.30" y="448.58" font-size="6.7" text-anchor="end" font-style="italic">TINF2</text>
<line x1="373.30" y1="456.85" x2="376.60" y2="456.85" stroke="#1a1a1a" stroke-width="1.0"/>
<text x="369.30" y="459.25" font-size="6.7" text-anchor="end" font-style="italic">TERT</text>
<line x1="373.30" y1="467.51" x2="376.60" y2="467.51" stroke="#1a1a1a" stroke-width="1.0"/>
<text x="369.30" y="469.91" font-size="6.7" text-anchor="end" font-style="italic">SRP72</text>
<line x1="373.30" y1="478.18" x2="376.60" y2="478.18" stroke="#1a1a1a" stroke-width="1.0"/>
<text x="369.30" y="480.57" font-size="6.7" text-anchor="end" font-style="italic">SLX4/SLX4</text>
<line x1="373.30" y1="488.84" x2="376.60" y2="488.84" stroke="#1a1a1a" stroke-width="1.0"/>
<text x="369.30" y="491.24" font-size="6.7" text-anchor="end" font-style="italic">SBF2/SBF2</text>
<line x1="373.30" y1="499.50" x2="376.60" y2="499.50" stroke="#1a1a1a" stroke-width="1.0"/>
<text x="369.30" y="501.90" font-size="6.7" text-anchor="end" font-style="italic">SBF2</text>
<line x1="373.30" y1="510.17" x2="376.60" y2="510.17" stroke="#1a1a1a" stroke-width="1.0"/>
<text x="369.30" y="512.57" font-size="6.7" text-anchor="end" font-style="italic">SAMD9L</text>
<line x1="373.30" y1="520.84" x2="376.60" y2="520.84" stroke="#1a1a1a" stroke-width="1.0"/>
<text x="369.30" y="523.24" font-size="6.7" text-anchor="end" font-style="italic">SAMD9</text>
<line x1="373.30" y1="531.50" x2="376.60" y2="531.50" stroke="#1a1a1a" stroke-width="1.0"/>
<text x="369.30" y="533.90" font-size="6.7" text-anchor="end" font-style="italic">RTEL1</text>
<line x1="373.30" y1="542.16" x2="376.60" y2="542.16" stroke="#1a1a1a" stroke-width="1.0"/>
<text x="369.30" y="544.56" font-size="6.7" text-anchor="end" font-style="italic">RPL5</text>
<line x1="373.30" y1="552.83" x2="376.60" y2="552.83" stroke="#1a1a1a" stroke-width="1.0"/>
<text x="369.30" y="555.23" font-size="6.7" text-anchor="end" font-style="italic">PRF1</text>
<line x1="373.30" y1="563.50" x2="376.60" y2="563.50" stroke="#1a1a1a" stroke-width="1.0"/>
<text x="369.30" y="565.89" font-size="6.7" text-anchor="end" font-style="italic">PALB2/PALB2</text>
<line x1="373.30" y1="574.16" x2="376.60" y2="574.16" stroke="#1a1a1a" stroke-width="1.0"/>
<text x="369.30" y="576.56" font-size="6.7" text-anchor="end" font-style="italic">NAF1</text>
<line x1="373.30" y1="584.83" x2="376.60" y2="584.83" stroke="#1a1a1a" stroke-width="1.0"/>
<text x="369.30" y="587.23" font-size="6.7" text-anchor="end" font-style="italic">MECOM</text>
<line x1="373.30" y1="595.49" x2="376.60" y2="595.49" stroke="#1a1a1a" stroke-width="1.0"/>
<text x="369.30" y="597.89" font-size="6.7" text-anchor="end" font-style="italic">GATA2</text>
<line x1="373.30" y1="606.15" x2="376.60" y2="606.15" stroke="#1a1a1a" stroke-width="1.0"/>
<text x="369.30" y="608.55" font-size="6.7" text-anchor="end" font-style="italic">DKC1</text>
<line x1="373.30" y1="616.82" x2="376.60" y2="616.82" stroke="#1a1a1a" stroke-width="1.0"/>
<text x="369.30" y="619.22" font-size="6.7" text-anchor="end" font-style="italic">DDX41</text>
<line x1="373.30" y1="627.49" x2="376.60" y2="627.49" stroke="#1a1a1a" stroke-width="1.0"/>
<text x="369.30" y="629.88" font-size="6.7" text-anchor="end" font-style="italic">ACD</text>
<text x="318.30" y="525.80" font-size="8.4" text-anchor="middle" transform="rotate(-90 318.30 525.80)" textLength="44" lengthAdjust="spacingAndGlyphs">Genes with VUS</text>
<line x1="393.00" y1="633.70" x2="393.00" y2="637.00" stroke="#1a1a1a" stroke-width="1.0"/>
<text x="396.40" y="643.90" font-size="7.1" text-anchor="end" transform="rotate(-45 396.40 643.90)">Cytopenias</text>
<line x1="420.68" y1="633.70" x2="420.68" y2="637.00" stroke="#1a1a1a" stroke-width="1.0"/>
<text x="424.08" y="643.90" font-size="7.1" text-anchor="end" transform="rotate(-45 424.08 643.90)">MAA</text>
<line x1="448.36" y1="633.70" x2="448.36" y2="637.00" stroke="#1a1a1a" stroke-width="1.0"/>
<text x="451.76" y="643.90" font-size="7.1" text-anchor="end" transform="rotate(-45 451.76 643.90)">MDS/HypoMDS</text>
<line x1="476.04" y1="633.70" x2="476.04" y2="637.00" stroke="#1a1a1a" stroke-width="1.0"/>
<text x="479.44" y="643.90" font-size="7.1" text-anchor="end" transform="rotate(-45 479.44 643.90)">Hypocellular BM</text>
<line x1="503.72" y1="633.70" x2="503.72" y2="637.00" stroke="#1a1a1a" stroke-width="1.0"/>
<text x="507.12" y="643.90" font-size="7.1" text-anchor="end" transform="rotate(-45 507.12 643.90)">SAA</text>
<circle cx="451.50" cy="435.25" r="2.15" fill="#1b4473"/>
<circle cx="482.25" cy="446.50" r="2.15" fill="#1b4473"/>
<circle cx="424.25" cy="456.75" r="2.15" fill="#1b4473"/>
<circle cx="427.50" cy="455.75" r="2.15" fill="#1b4473"/>
<circle cx="428.75" cy="457.50" r="2.15" fill="#1b4473"/>
<circle cx="446.50" cy="455.25" r="2.15" fill="#1b4473"/>
<circle cx="506.25" cy="456.00" r="2.15" fill="#1b4473"/>
<circle cx="414.00" cy="468.00" r="2.15" fill="#1b4473"/>
<circle cx="424.00" cy="479.00" r="2.15" fill="#1b4473"/>
<circle cx="511.75" cy="477.50" r="2.15" fill="#1b4473"/>
<circle cx="498.00" cy="489.25" r="2.15" fill="#1b4473"/>
<circle cx="415.00" cy="499.00" r="2.15" fill="#1b4473"/>
<circle cx="420.25" cy="498.25" r="2.15" fill="#1b4473"/>
<circle cx="423.25" cy="499.00" r="2.15" fill="#1b4473"/>
<circle cx="501.50" cy="498.50" r="2.15" fill="#1b4473"/>
<circle cx="507.00" cy="499.00" r="2.15" fill="#1b4473"/>
<circle cx="497.50" cy="510.00" r="2.15" fill="#1b4473"/>
<circle cx="497.00" cy="511.25" r="2.15" fill="#1b4473"/>
<circle cx="414.25" cy="520.75" r="2.15" fill="#1b4473"/>
<circle cx="496.00" cy="519.50" r="2.15" fill="#1b4473"/>
<circle cx="501.50" cy="519.50" r="2.15" fill="#1b4473"/>
<circle cx="505.50" cy="519.50" r="2.15" fill="#1b4473"/>
<circle cx="507.50" cy="520.50" r="2.15" fill="#1b4473"/>
<circle cx="508.25" cy="522.00" r="2.15" fill="#1b4473"/>
<circle cx="420.75" cy="531.25" r="2.15" fill="#1b4473"/>
<circle cx="426.75" cy="531.25" r="2.15" fill="#1b4473"/>
<circle cx="496.25" cy="531.25" r="2.15" fill="#1b4473"/>
<circle cx="497.50" cy="532.25" r="2.15" fill="#1b4473"/>
<circle cx="500.25" cy="530.75" r="2.15" fill="#1b4473"/>
<circle cx="512.25" cy="532.00" r="2.15" fill="#1b4473"/>
<circle cx="415.00" cy="541.75" r="2.15" fill="#1b4473"/>
<circle cx="413.50" cy="553.25" r="2.15" fill="#1b4473"/>
<circle cx="509.25" cy="562.75" r="2.15" fill="#1b4473"/>
<circle cx="502.75" cy="574.75" r="2.15" fill="#1b4473"/>
<circle cx="413.50" cy="595.25" r="2.15" fill="#1b4473"/>
<circle cx="454.75" cy="594.50" r="2.15" fill="#1b4473"/>
<circle cx="503.25" cy="596.25" r="2.15" fill="#1b4473"/>
<circle cx="421.25" cy="617.75" r="2.15" fill="#1b4473"/>
<circle cx="511.25" cy="628.25" r="2.15" fill="#1b4473"/>
<circle cx="397.00" cy="423.25" r="2.15" fill="#b30f2e"/>
<circle cx="389.50" cy="456.50" r="2.15" fill="#b30f2e"/>
<circle cx="399.25" cy="456.50" r="2.15" fill="#b30f2e"/>
<circle cx="417.00" cy="457.00" r="2.15" fill="#b30f2e"/>
<circle cx="420.75" cy="457.75" r="2.15" fill="#b30f2e"/>
<circle cx="385.00" cy="531.25" r="2.15" fill="#b30f2e"/>
<circle cx="423.50" cy="583.75" r="2.15" fill="#b30f2e"/>
<circle cx="427.75" cy="606.25" r="2.15" fill="#b30f2e"/>
<circle cx="386.8" cy="696.6" r="1.9" fill="#b30f2e"/>
<circle cx="445.9" cy="696.6" r="1.9" fill="#1b4473"/>
<text x="392.00" y="698.70" font-size="7.1">Inherited</text>
<text x="451.10" y="698.70" font-size="7.1">Acquired</text>
</g>
</svg>
</body>
</html>
